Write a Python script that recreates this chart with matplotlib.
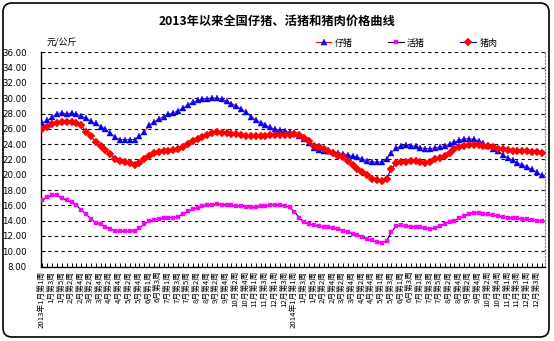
import matplotlib
matplotlib.use("Agg")
import matplotlib.pyplot as plt
from matplotlib.patches import FancyBboxPatch
from matplotlib.transforms import IdentityTransform
import numpy as np

plt.rcParams['font.family'] = ['Noto Sans CJK SC', 'DejaVu Sans']

title = "2013年以来全国仔猪、活猪和猪肉价格曲线"
unit = "元/公斤"
series_names = ["仔猪", "活猪", "猪肉"]

# weekly prices, 2013 week 1 .. 2014 December week 4 (104 weeks)
piglet = [26.8, 27.1, 27.55, 28.0, 28.05, 28.0, 28.05, 27.9, 27.7, 27.4,
          27.0, 26.7, 26.3, 25.95, 25.4, 24.9, 24.6, 24.6, 24.6, 24.6,
          25.0, 25.6, 26.45, 26.9, 27.3, 27.6, 27.9, 28.1, 28.35, 28.7,
          29.15, 29.45, 29.7, 29.85, 29.95, 30.05, 30.0, 29.9, 29.6, 29.3,
          29.0, 28.6, 28.2, 27.6, 27.2, 26.8, 26.5, 26.2, 25.95, 25.8,
          25.65, 25.55, 25.4, 25.05, 24.7, 24.1, 23.5, 23.25, 23.15, 23.05,
          22.98, 22.9, 22.75, 22.6, 22.4, 22.3, 22.05, 21.85, 21.7, 21.6,
          21.7, 22.0, 22.9, 23.5, 23.75, 23.85, 23.8, 23.7, 23.55, 23.42,
          23.4, 23.5, 23.65, 23.8, 24.0, 24.25, 24.5, 24.7, 24.7, 24.62,
          24.45, 24.1, 23.75, 23.4, 23.1, 22.6, 22.2, 21.9, 21.55, 21.3,
          21.0, 20.7, 20.35, 19.9]

hog = [16.65, 17.1, 17.3, 17.3, 16.9, 16.65, 16.4, 16.05, 15.35, 14.85,
       14.2, 13.7, 13.5, 13.2, 12.85, 12.7, 12.6, 12.6, 12.6, 12.7,
       13.0, 13.55, 13.9, 14.1, 14.2, 14.3, 14.4, 14.4, 14.5, 14.85,
       15.2, 15.5, 15.7, 15.9, 16.0, 16.1, 16.15, 16.1, 16.0, 16.0,
       15.9, 15.9, 15.8, 15.75, 15.75, 15.85, 15.9, 16.0, 16.1, 16.0,
       15.9, 15.8, 15.15, 14.4, 13.8, 13.55, 13.4, 13.3, 13.2, 13.1,
       13.0, 12.9, 12.7, 12.5, 12.3, 12.1, 11.9, 11.6, 11.4, 11.2,
       11.1, 11.3, 12.5, 13.3, 13.4, 13.3, 13.2, 13.2, 13.1, 13.0,
       12.9, 13.0, 13.3, 13.6, 13.8, 14.0, 14.3, 14.6, 14.9, 15.0,
       15.0, 14.9, 14.8, 14.7, 14.6, 14.5, 14.4, 14.3, 14.3, 14.2,
       14.2, 14.1, 14.0, 13.9]

pork = [26.0, 26.3, 26.6, 26.8, 26.9, 26.9, 26.9, 26.8, 26.5, 25.6,
        25.0, 24.3, 23.7, 23.2, 22.7, 22.1, 21.8, 21.6, 21.5, 21.3,
        21.5, 22.0, 22.5, 22.9, 23.0, 23.1, 23.1, 23.2, 23.3, 23.6,
        23.95, 24.4, 24.7, 24.95, 25.2, 25.4, 25.55, 25.5, 25.4, 25.3,
        25.3, 25.25, 25.1, 25.1, 25.1, 25.1, 25.1, 25.2, 25.25, 25.25,
        25.2, 25.2, 25.3, 25.2, 24.8, 24.35, 23.8, 23.6, 23.3, 23.05,
        22.85, 22.5, 22.3, 21.8, 21.25, 20.8, 20.35, 19.9, 19.5, 19.35,
        19.2, 19.5, 20.8, 21.5, 21.65, 21.7, 21.8, 21.8, 21.7, 21.55,
        21.65, 22.0, 22.2, 22.5, 22.85, 23.3, 23.6, 23.8, 23.9, 23.9,
        23.9, 23.8, 23.7, 23.6, 23.4, 23.3, 23.2, 23.15, 23.15, 23.05,
        23.05, 23.0, 23.0, 22.9]

# labels for every other week
tick_labels = [
    "2013年1月第1周", "1月第3周", "1月第5周", "2月第2周", "2月第4周",
    "3月第2周", "3月第4周", "4月第2周", "4月第4周", "5月第2周",
    "5月第4周", "6月第1周", "6月第3周", "7月第1周", "7月第3周",
    "7月第5周", "8月第2周", "8月第4周", "9月第2周", "9月第4周",
    "10月第2周", "10月第4周", "11月第1周", "11月第3周", "12月第1周",
    "12月第3周",
    "2014年1月第1周", "1月第3周", "1月第5周", "2月第2周", "2月第4周",
    "3月第2周", "3月第4周", "4月第2周", "4月第4周", "5月第1周",
    "5月第3周", "6月第1周", "6月第3周", "7月第1周", "7月第3周",
    "7月第5周", "8月第2周", "8月第4周", "9月第2周", "9月第4周",
    "10月第2周", "10月第4周", "11月第1周", "11月第3周", "12月第1周",
    "12月第3周",
]

W, H = 554, 341
fig = plt.figure(figsize=(W / 100, H / 100), dpi=100)
ax = fig.add_axes([40.5 / W, 1 - 266.5 / H, (545 - 40.5) / W, (266.5 - 52.3) / H])

x = np.arange(len(piglet))

ln_piglet, = ax.plot(x, piglet, color='#FF0000', lw=0.8, marker='^',
                     markersize=4.6, markerfacecolor='#0000FF',
                     markeredgecolor='#0000FF', markeredgewidth=0.3,
                     label=series_names[0], zorder=3)
ln_hog, = ax.plot(x, hog, color='black', lw=0.8, marker='s',
                  markersize=2.6, markerfacecolor='#FF00FF',
                  markeredgecolor='#FF00FF', markeredgewidth=0.3,
                  label=series_names[1], zorder=3)
ln_pork, = ax.plot(x, pork, color='#0000FF', lw=0.8, marker='D',
                   markersize=3.8, markerfacecolor='#FF0000',
                   markeredgecolor='#FF0000', markeredgewidth=0.3,
                   label=series_names[2], zorder=3)

ax.set_xlim(-0.4, len(x) - 0.3)
ax.set_ylim(8, 36)
yt = np.arange(8, 36.1, 2)
ax.set_yticks(yt)
ax.set_yticklabels([f"{v:.2f}" for v in yt], fontsize=6.2, family='DejaVu Sans')
ax.yaxis.grid(True, color='black', linestyle=(0, (3, 3)), lw=0.8)
ax.set_axisbelow(True)

ax.set_xticks(x[::2])
ax.set_xticklabels(tick_labels, rotation=90, fontsize=5.6, va='top', ha='center')
ax.set_xticks(x, minor=True)
ax.tick_params(axis='x', which='both', direction='in', length=3, width=0.7, pad=3)
ax.tick_params(axis='y', direction='in', length=3, width=0.7, pad=10)

ax.spines['top'].set_visible(False)
ax.spines['right'].set_linestyle((0, (1, 2)))
ax.spines['right'].set_color('#808080')
ax.spines['right'].set_linewidth(0.8)
ax.spines['left'].set_linewidth(1.0)
ax.spines['bottom'].set_linewidth(1.0)

fig.text(0.5, 1 - 21 / H, title, ha='center', va='center', fontsize=8.8,
         fontweight='bold')
fig.text(47 / W, 1 - 43 / H, unit, ha='left', va='center', fontsize=6.5,
         style='italic')

ax.legend(handles=[ln_piglet, ln_hog, ln_pork], loc='center left',
          bbox_to_anchor=(316 / W, 1 - 43 / H), bbox_transform=fig.transFigure,
          ncol=3, frameon=False, fontsize=6.5, handlelength=1.7,
          handletextpad=0.4, columnspacing=3.9, borderpad=0, borderaxespad=0)

border = FancyBboxPatch((3, H - 337), 546, 334,
                        boxstyle="round,pad=0,rounding_size=9",
                        transform=IdentityTransform(), fill=False,
                        edgecolor='black', linewidth=1.2)
fig.patches.append(border)

fig.savefig("out.png", dpi=100)
